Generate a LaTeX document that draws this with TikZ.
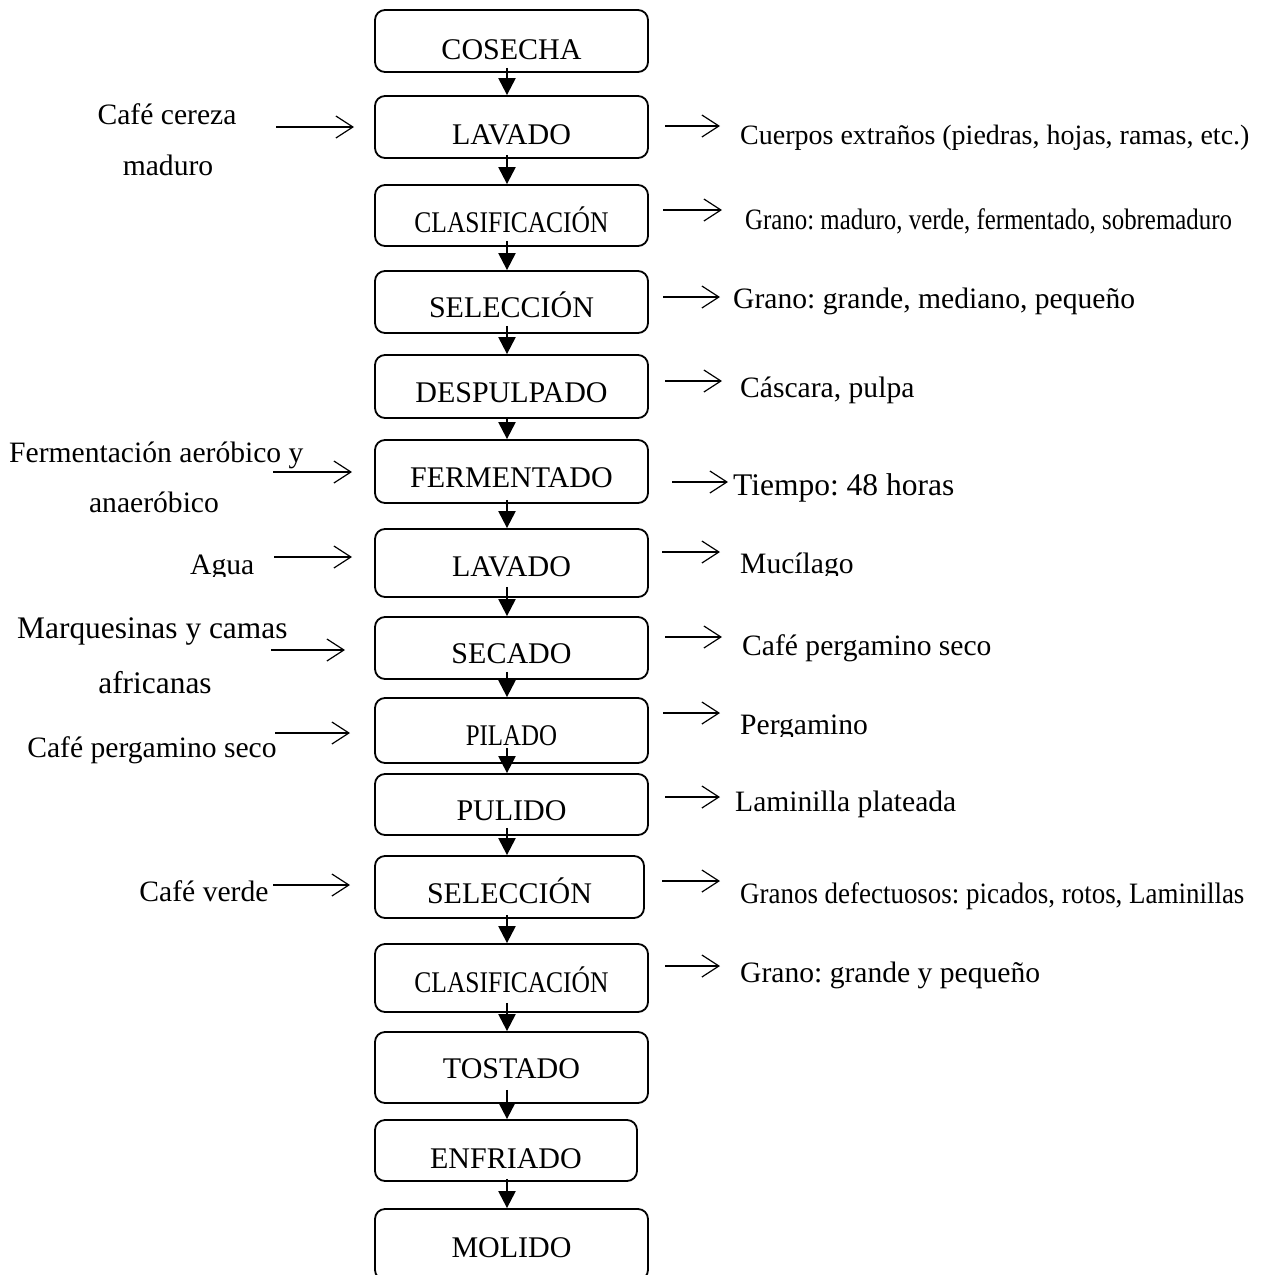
\documentclass[tikz,border=0pt]{standalone}
\usepackage{fontspec}
\setmainfont{Liberation Serif}
\usetikzlibrary{arrows.meta,calc}
\frenchspacing

\begin{document}
\begin{tikzpicture}[x=1pt,y=-1pt,
  stage/.style={draw,line width=1.8pt,rounded corners=10pt,minimum width=273pt,
    minimum height=62pt,inner sep=0pt,text height=32pt,text depth=0pt,
    font=\fontsize{30}{36}\selectfont},
  flow/.style={line width=2.2pt,-{Triangle[width=17pt,length=17pt]}},
  side/.style={line width=1.2pt,-{Straight Barb[length=17pt,width=22pt]}},
  lbl/.style={inner sep=0pt,font=\fontsize{29.6}{36}\selectfont}]

\clip (0,0) rectangle (1263,1275);

% process stages
\node[stage,text height=36pt] (b1) at (511.5,41) {COSECHA};
\node[stage,text height=34pt] (b2) at (511.5,127) {LAVADO};
\node[stage,text height=34pt,minimum height=61pt] (b3) at (511.5,215.5) {\scalebox{0.85}[1]{CLASIFICACIÓN}};
\node[stage,text height=31pt] (b4) at (511.5,302) {SELECCIÓN};
\node[stage,text height=31pt,minimum height=63pt] (b5) at (511.5,386.5) {DESPULPADO};
\node[stage,minimum height=63pt] (b6) at (511.5,471.5) {FERMENTADO};
\node[stage,text height=26pt,minimum height=68pt] (b7) at (511.5,563) {LAVADO};
\node[stage,text height=30pt] (b8) at (511.5,648) {SECADO};
\node[stage,text height=29pt,minimum height=65pt] (b9) at (511.5,730.5) {\scalebox{0.83}[1]{PILADO}};
\node[stage,minimum height=61pt] (b10) at (511.5,804.5) {PULIDO};
\node[stage,minimum width=269pt] (b11) at (509.5,887) {SELECCIÓN};
\node[stage,text height=28pt,minimum height=68pt] (b12) at (511.5,978) {\scalebox{0.85}[1]{CLASIFICACIÓN}};
\node[stage,text height=22pt,minimum height=71pt] (b13) at (511.5,1067.5) {TOSTADO};
\node[stage,text height=36pt,minimum height=61pt,minimum width=262pt] (b14) at (506,1150.5) {ENFRIADO};
\node[stage,text height=25pt,minimum height=71pt] (b15) at (511.5,1244.5) {MOLIDO};

% main flow
\coordinate (ax) at (507,0);
\foreach \a/\b/\o in {b1/b2/5,b2/b3/4,b3/b4/6,b4/b5/8,b5/b6/0,b6/b7/4,b7/b8/11,
  b8/b9/8,b9/b10/16,b10/b11/8,b11/b12/4,b12/b13/10,b13/b14/14,b14/b15/3}
  \draw[flow] ($(\a.south -| ax)+(0,-\o)$) -- (\b.north -| ax);

% inputs
\node[lbl,anchor=base] (i1) at (167,124) {Café cereza};
\node[lbl,anchor=base] (i1b) at (168,175) {maduro};
\coordinate (i1s) at (276,127); \coordinate (i1e) at (354,127);
\draw[side] (i1s) -- (i1e);

\node[lbl,anchor=base west] (i2) at (9,462) {Fermentación aeróbico y};
\node[lbl,anchor=base] (i2b) at (154,512) {anaeróbico};
\coordinate (i2s) at (273,472); \coordinate (i2e) at (352,472);
\draw[side] (i2s) -- (i2e);

\begin{scope}
  \clip (0,0) rectangle (300,576);
  \node[lbl,anchor=base west] (i3) at (190,574) {Agua};
\end{scope}
\coordinate (i3s) at (274,557); \coordinate (i3e) at (352,557);
\draw[side] (i3s) -- (i3e);

\node[lbl,anchor=base west,font=\fontsize{31.4}{38}\selectfont] (i4) at (17,638) {Marquesinas y camas};
\node[lbl,anchor=base,font=\fontsize{31.4}{38}\selectfont] (i4b) at (155,693) {africanas};
\coordinate (i4s) at (271,650); \coordinate (i4e) at (345,650);
\draw[side] (i4s) -- (i4e);

\node[lbl,anchor=base] (i5) at (152,757) {Café pergamino seco};
\coordinate (i5s) at (275,733); \coordinate (i5e) at (350,733);
\draw[side] (i5s) -- (i5e);

\node[lbl,anchor=base] (i6) at (204,901) {Café verde};
\coordinate (i6s) at (273,885); \coordinate (i6e) at (350,885);
\draw[side] (i6s) -- (i6e);

% outputs
\coordinate (o1s) at (665,126); \coordinate (o1e) at (720,126);
\draw[side] (o1s) -- (o1e);
\node[lbl,anchor=base west,font=\fontsize{28}{34}\selectfont] (o1) at (740,144) {Cuerpos extraños (piedras, hojas, ramas, etc.)};

\coordinate (o2s) at (663,210); \coordinate (o2e) at (722,210);
\draw[side] (o2s) -- (o2e);
\node[lbl,anchor=base west] (o2) at (745,229) {\scalebox{0.84}[1]{Grano: maduro, verde, fermentado, sobremaduro}};

\coordinate (o3s) at (663,297); \coordinate (o3e) at (720,297);
\draw[side] (o3s) -- (o3e);
\node[lbl,anchor=base west] (o3) at (733,308) {Grano: grande, mediano, pequeño};

\coordinate (o4s) at (665,381); \coordinate (o4e) at (722,381);
\draw[side] (o4s) -- (o4e);
\node[lbl,anchor=base west] (o4) at (740,397) {Cáscara, pulpa};

\coordinate (o5s) at (672,482); \coordinate (o5e) at (728,482);
\draw[side] (o5s) -- (o5e);
\node[lbl,anchor=base west,font=\fontsize{31.5}{38}\selectfont] (o5) at (733,495) {Tiempo: 48 horas};

\coordinate (o6s) at (662,552); \coordinate (o6e) at (720,552);
\draw[side] (o6s) -- (o6e);
\begin{scope}
  \clip (700,500) rectangle (1000,575);
  \node[lbl,anchor=base west] (o6) at (740,573) {Mucílago};
\end{scope}

\coordinate (o7s) at (665,637); \coordinate (o7e) at (722,637);
\draw[side] (o7s) -- (o7e);
\node[lbl,anchor=base west] (o7) at (742,655) {Café pergamino seco};

\coordinate (o8s) at (663,713); \coordinate (o8e) at (720,713);
\draw[side] (o8s) -- (o8e);
\begin{scope}
  \clip (700,690) rectangle (1000,736);
  \node[lbl,anchor=base west] (o8) at (740,734) {Pergamino};
\end{scope}

\coordinate (o9s) at (665,797); \coordinate (o9e) at (720,797);
\draw[side] (o9s) -- (o9e);
\node[lbl,anchor=base west] (o9) at (735,811) {Laminilla plateada};

\coordinate (o10s) at (662,881); \coordinate (o10e) at (720,881);
\draw[side] (o10s) -- (o10e);
\node[lbl,anchor=base west] (o10) at (740,903) {\scalebox{0.91}[1]{Granos defectuosos: picados, rotos, Laminillas}};

\coordinate (o11s) at (665,966); \coordinate (o11e) at (720,966);
\draw[side] (o11s) -- (o11e);
\node[lbl,anchor=base west] (o11) at (740,982) {Grano: grande y pequeño};

\end{tikzpicture}
\end{document}
